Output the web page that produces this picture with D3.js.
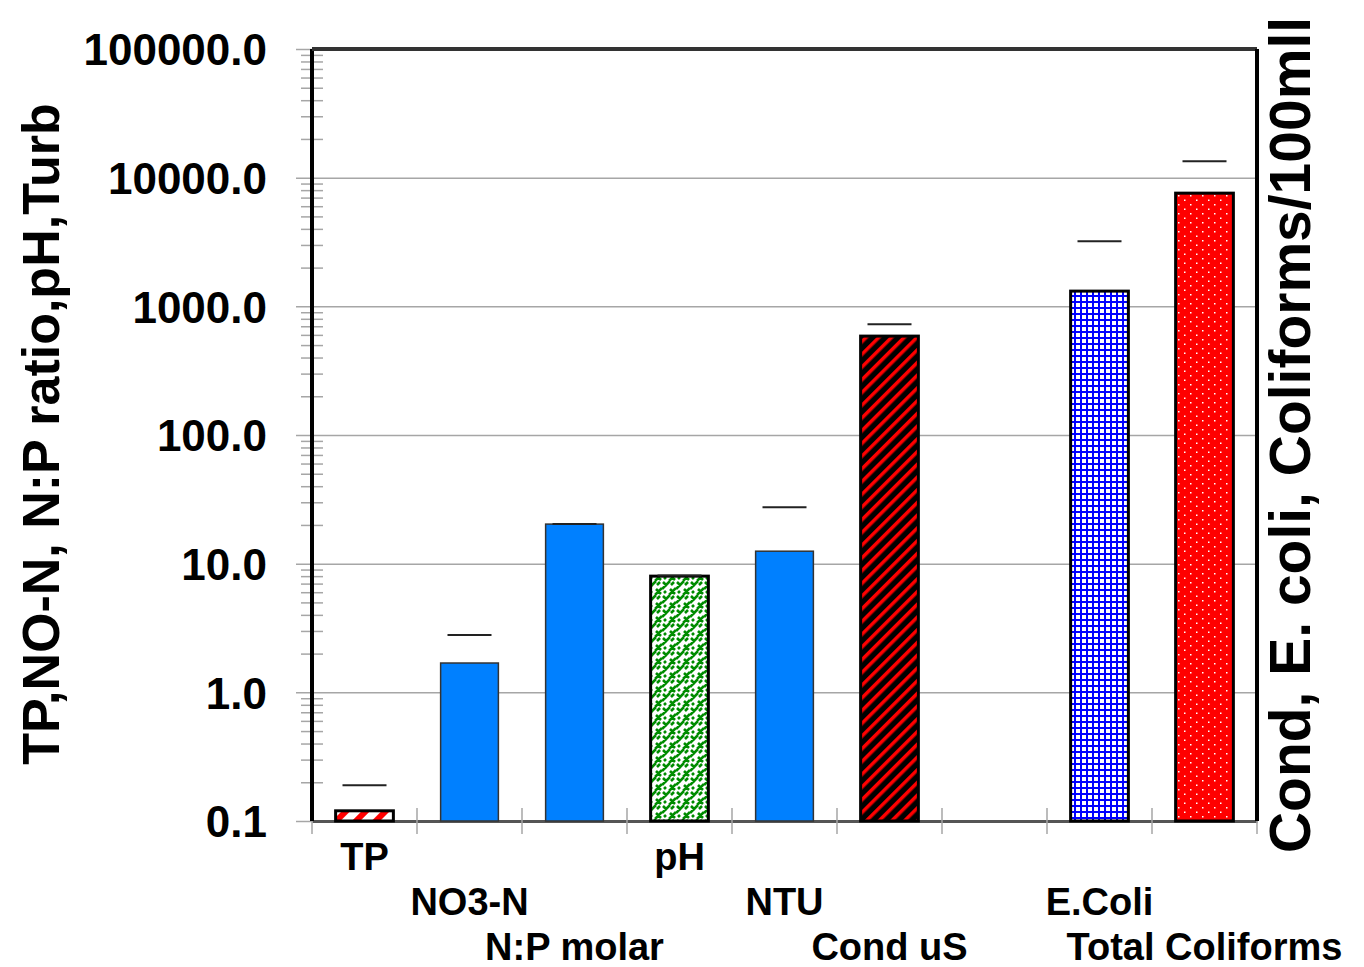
<html>
<head>
  <script src="https://d3js.org/d3.v7.min.js"></script>
  <style>
    body { margin: 0; background: #fff; }
    text { font-family: "Liberation Sans", Arial, sans-serif; font-weight: bold; }
  </style>
</head>
<body>
  <svg id="chart" width="1364" height="967"></svg>
  <script>
    const categories = ["TP", "NO3-N", "N:P molar", "pH", "NTU", "Cond uS", "", "E.Coli", "Total Coliforms"];
    const values = [0.12, 1.69, 20.3, 8.0, 12.5, 587, null, 1313, 7580];
    const upper = [0.19, 2.79, 20.3, 8.1, 27.5, 727, null, 3210, 13430];
    const fills = ["stripeRedWhite", "blue", "blue", "weave", "blue", "stripeRedBlack", null, "gridBlue", "dots"];
    const labelRow = [0, 1, 2, 0, 1, 2, 0, 1, 2];
    const yTicks = [0.1, 1, 10, 100, 1000, 10000, 100000];

    const svg = d3.select("#chart");
    const margin = { top: 49, right: 107, bottom: 146, left: 312 };
    const W = 1364 - margin.left - margin.right;
    const H = 967 - margin.top - margin.bottom;

    const defs = svg.append("defs");
    // red/white diagonal stripes
    let p = defs.append("pattern").attr("id", "stripeRedWhite").attr("patternUnits", "userSpaceOnUse")
      .attr("width", 14).attr("height", 14).attr("patternTransform", "rotate(45)");
    p.append("rect").attr("width", 14).attr("height", 14).attr("fill", "#fff");
    p.append("rect").attr("width", 6).attr("height", 14).attr("fill", "#ff0000");
    // black with red stripes
    p = defs.append("pattern").attr("id", "stripeRedBlack").attr("patternUnits", "userSpaceOnUse")
      .attr("width", 9).attr("height", 9).attr("patternTransform", "rotate(45)");
    p.append("rect").attr("width", 9).attr("height", 9).attr("fill", "#000");
    p.append("rect").attr("width", 3.5).attr("height", 9).attr("fill", "#ff0000");
    // green weave
    p = defs.append("pattern").attr("id", "weave").attr("patternUnits", "userSpaceOnUse")
      .attr("width", 14).attr("height", 14);
    p.append("rect").attr("width", 14).attr("height", 14).attr("fill", "#fff");
    p.append("path")
      .attr("d", "M0,8 L8,0 M7,14 L14,7 M1,1 L5,5 M10,10 L13,13 M9,4 L12,1 M2,12 L4,10 M8,8 L10,10")
      .attr("stroke", "#008c00").attr("stroke-width", 2.6);
    // blue grid
    p = defs.append("pattern").attr("id", "gridBlue").attr("patternUnits", "userSpaceOnUse")
      .attr("width", 6).attr("height", 6);
    p.append("rect").attr("width", 6).attr("height", 6).attr("fill", "#fff");
    p.append("rect").attr("width", 6).attr("height", 2).attr("fill", "#0000ff");
    p.append("rect").attr("width", 2).attr("height", 6).attr("fill", "#0000ff");
    // red with white dots
    p = defs.append("pattern").attr("id", "dots").attr("patternUnits", "userSpaceOnUse")
      .attr("width", 12).attr("height", 9);
    p.append("rect").attr("width", 12).attr("height", 9).attr("fill", "#ff0000");
    p.append("rect").attr("x", 2).attr("y", 2).attr("width", 1.5).attr("height", 1.5).attr("fill", "#fff");
    p.append("rect").attr("x", 8).attr("y", 6.5).attr("width", 1.5).attr("height", 1.5).attr("fill", "#fff");

    const g = svg.append("g").attr("transform", `translate(${margin.left},${margin.top})`);

    const x = d3.scaleBand().domain(d3.range(categories.length)).range([0, W]).paddingInner(0.45).paddingOuter(0.225);
    const slot = d3.scaleBand().domain(d3.range(categories.length)).range([0, W]);
    const y = d3.scaleLog().domain([0.1, 100000]).range([H, 0]);

    // gridlines
    g.append("g").attr("class", "grid")
      .call(d3.axisLeft(y).tickValues(yTicks).tickSize(-W - 16).tickFormat(""))
      .attr("transform", "translate(-16,0)")
      .call(s => s.select(".domain").remove())
      .call(s => s.selectAll("line").attr("stroke", "#a6a6a6").attr("stroke-width", 1.5));

    // minor ticks
    const minor = [];
    yTicks.slice(0, -1).forEach(t => { for (let k = 2; k < 10; k++) minor.push(t * k); });
    g.append("g").attr("transform", "translate(11,0)")
      .call(d3.axisLeft(y).tickValues(minor).tickSize(22).tickFormat(""))
      .call(s => s.select(".domain").remove())
      .call(s => s.selectAll("line").attr("stroke", "#a6a6a6").attr("stroke-width", 1.5));

    // y tick labels
    g.append("g").attr("transform", "translate(-42,0)")
      .call(d3.axisLeft(y).tickValues(yTicks).tickSize(0).tickFormat(d3.format(".1f")))
      .call(s => s.select(".domain").remove())
      .call(s => s.selectAll("text").attr("font-size", 44).attr("fill", "#000").attr("dy", "0.36em")
        .style("font-family", "'Liberation Sans', Arial, sans-serif").style("font-weight", "bold"));

    // bottom axis
    g.append("g").attr("transform", `translate(0,${H})`)
      .call(d3.axisBottom(slot).tickValues([]).tickSizeOuter(0))
      .call(s => s.select(".domain").attr("stroke", "#555").attr("stroke-width", 3));
    g.append("g").selectAll("line").data(d3.range(categories.length + 1)).join("line")
      .attr("x1", i => i * slot.step()).attr("x2", i => i * slot.step())
      .attr("y1", H - 13).attr("y2", H + 13)
      .attr("stroke", "#a6a6a6").attr("stroke-width", 1.5);

    // bars
    const data = categories.map((c, i) => ({ c, i, v: values[i], u: upper[i], f: fills[i], row: labelRow[i] }));
    const bars = data.filter(d => d.v != null);
    g.selectAll("rect.bar").data(bars).join("rect").attr("class", "bar")
      .attr("x", d => x(d.i)).attr("width", x.bandwidth())
      .attr("y", d => y(d.v)).attr("height", d => H - y(d.v))
      .attr("fill", d => d.f === "blue" ? "#0080ff" : `url(#${d.f})`)
      .attr("stroke", d => d.f === "blue" ? "#333" : "#000")
      .attr("stroke-width", d => d.f === "blue" ? 1.5 : 3);

    // error caps
    g.selectAll("line.err").data(bars).join("line").attr("class", "err")
      .attr("x1", d => x(d.i) + x.bandwidth() / 2 - 22).attr("x2", d => x(d.i) + x.bandwidth() / 2 + 22)
      .attr("y1", d => y(d.u)).attr("y2", d => y(d.u))
      .attr("stroke", "#222").attr("stroke-width", 2);

    // frame: left axis, top, right
    g.append("line").attr("x1", 0).attr("x2", 0).attr("y1", 0).attr("y2", H).attr("stroke", "#000").attr("stroke-width", 4);
    g.append("line").attr("x1", 0).attr("x2", W).attr("y1", 0).attr("y2", 0).attr("stroke", "#333").attr("stroke-width", 4);
    g.append("line").attr("x1", W).attr("x2", W).attr("y1", 0).attr("y2", H).attr("stroke", "#000").attr("stroke-width", 4);

    // category labels
    g.selectAll("text.cat").data(data.filter(d => d.c)).join("text").attr("class", "cat")
      .attr("x", d => slot(d.i) + slot.step() / 2)
      .attr("y", d => H + 49 + d.row * 45)
      .attr("text-anchor", "middle").attr("font-size", 38).attr("fill", "#000")
      .text(d => d.c);

    // axis titles
    svg.append("text").attr("transform", "translate(59,434) rotate(-90)")
      .attr("text-anchor", "middle").attr("font-size", 52).text("TP,NO-N, N:P ratio,pH,Turb");
    svg.append("text").attr("transform", "translate(1310,435) rotate(-90)")
      .attr("text-anchor", "middle").attr("font-size", 57).text("Cond, E. coli, Coliforms/100mll");
  </script>
</body>
</html>
